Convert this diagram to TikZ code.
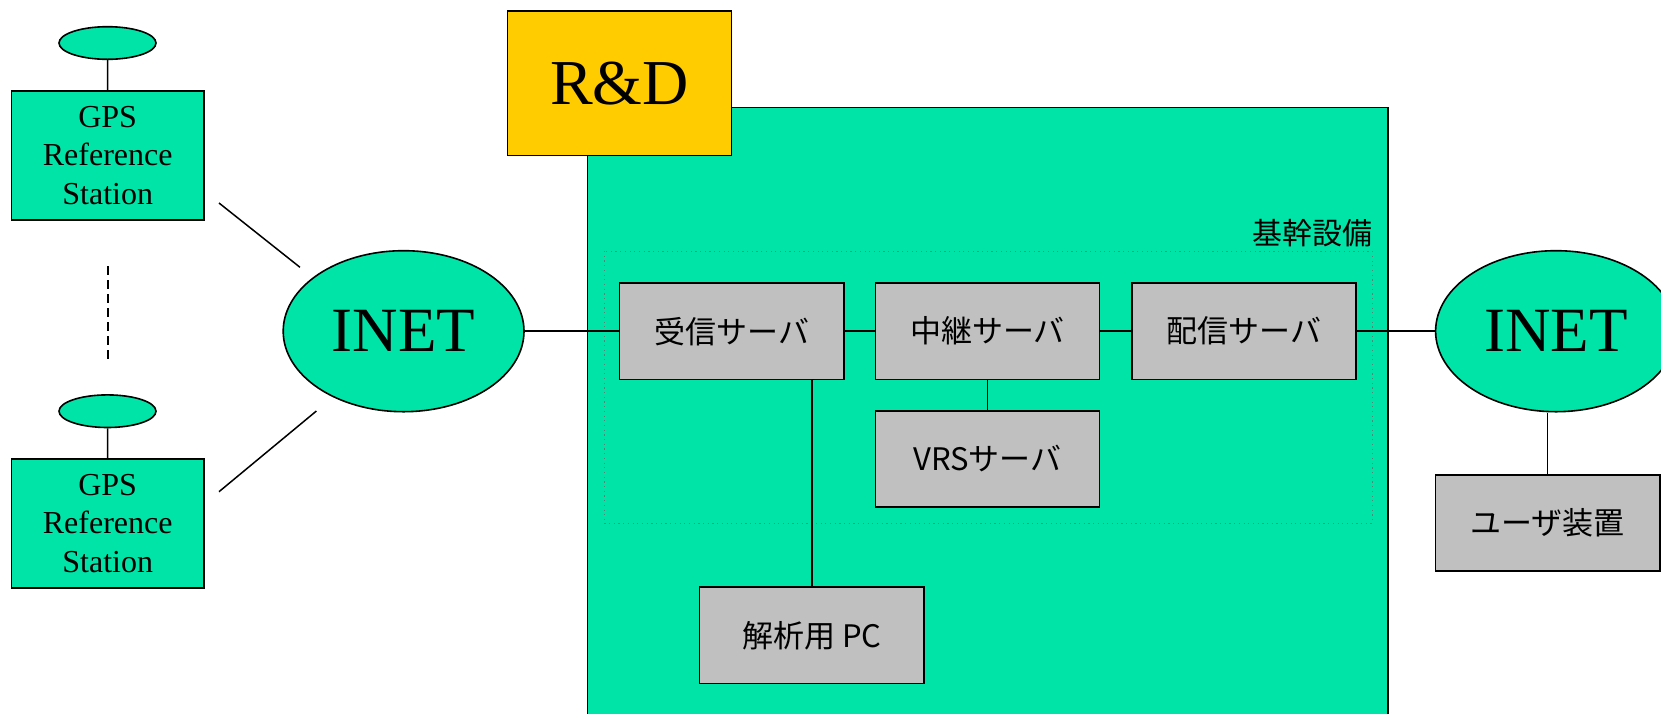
\documentclass[tikz,border=0pt]{standalone}
\usepackage{fontspec}
\setmainfont{Liberation Serif}
\newfontfamily\jp{Noto Sans CJK JP}
\usetikzlibrary{shapes.geometric}
\definecolor{vgreen}{HTML}{00E4A8}
\definecolor{silverg}{HTML}{C0C0C0}
\definecolor{rdyellow}{HTML}{FFCC00}
\definecolor{dotgray}{HTML}{4A8A78}
\begin{document}
\begin{tikzpicture}[x=1pt,y=-1pt,
  outl/.style={draw=black, line width=1.6pt},
  gpsbox/.style={outl, fill=vgreen, rectangle, minimum width=192.6pt, minimum height=129pt, inner sep=0pt, align=center, font=\fontsize{32}{38.5}\selectfont},
  antenna/.style={outl, fill=vgreen, ellipse, minimum width=97pt, minimum height=32.6pt, inner sep=0pt},
  inet/.style={outl, fill=vgreen, ellipse, minimum width=240.8pt, minimum height=161pt, inner sep=0pt, font=\fontsize{63}{63}\selectfont},
  srv/.style={outl, fill=silverg, rectangle, minimum width=224.3pt, minimum height=96.3pt, inner sep=0pt, font=\jp\fontsize{31}{31}\selectfont},
  wire/.style={line width=1.5pt}
]
\useasboundingbox (0,0) rectangle (1661,713);
\clip (0,0) rectangle (1661,713);
% main area
\node[outl, fill=vgreen, rectangle, minimum width=800.2pt, minimum height=622.7pt, inner sep=0pt] (area) at (987.6,418.65) {};
\node[outl, fill=rdyellow, rectangle, minimum width=223.8pt, minimum height=144.3pt, inner sep=0pt, font=\fontsize{64}{64}\selectfont] (rd) at (619.5,83.2) {R\&D};
\draw[dotgray, line width=1pt, dash pattern=on 1.2pt off 3.5pt] (604,251) rectangle (1372,523.3);
\node[anchor=base east, inner sep=0pt, font=\jp\fontsize{30}{30}\selectfont] (kikan) at (1373,244.5) {基幹設備};
% servers
\node[srv] (jushin) at (731.8,331.2) {受信サーバ};
\node[srv] (chukei) at (987.5,331.2) {中継サーバ};
\node[srv] (haishin) at (1243.9,331.2) {配信サーバ};
\node[srv] (vrs) at (987.5,459) {VRSサーバ};
\node[srv] (pc) at (811.75,635.3) {解析用 PC};
\node[srv] (user) at (1547.7,523) {ユーザ装置};
% internet clouds
\node[inet] (inet1) at (403.6,331.2) {INET};
\node[inet] (inet2) at (1556,331.2) {INET};
% GPS stations
\node[antenna] (ant1) at (107.5,43) {};
\node[gpsbox] (gps1) at (107.7,155.2) {GPS\\Reference\\Station};
\node[antenna] (ant2) at (107.5,411.2) {};
\node[gpsbox] (gps2) at (107.7,523.5) {GPS\\Reference\\Station};
% connectors
\draw[wire] (ant1) -- (gps1);
\draw[wire] (ant2) -- (gps2);
\coordinate (l1a) at (219,203);
\coordinate (l1b) at (300,267.3);
\coordinate (l2a) at (219,491.7);
\coordinate (l2b) at (316.4,411);
\coordinate (d1) at (107.7,266);
\coordinate (d2) at (107.7,360);
\draw[wire] (l1a) -- (l1b);
\draw[wire] (l2a) -- (l2b);
\draw[line width=2pt, dash pattern=on 9pt off 5pt] (d1) -- (d2);
\draw[wire] (inet1) -- (jushin) -- (chukei) -- (haishin) -- (inet2);
\draw[wire] (chukei) -- (vrs);
\draw[wire] (pc.north) -- (pc.north |- jushin.south);
\draw[wire] (user.north) -- (user.north |- inet2.south);
\end{tikzpicture}
\end{document}
